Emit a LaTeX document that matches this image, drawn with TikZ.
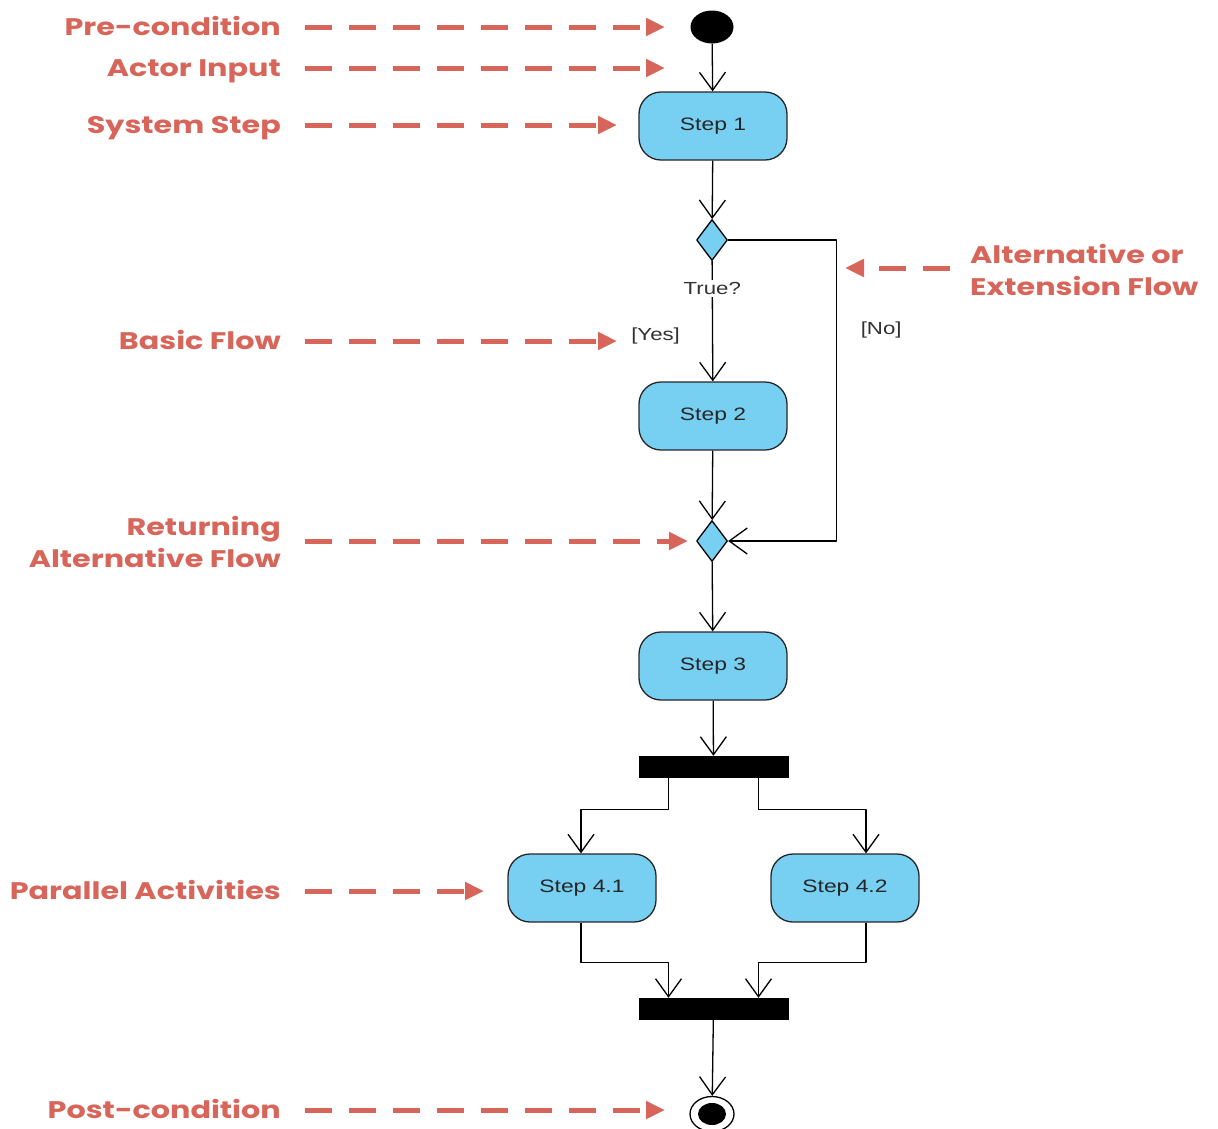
\documentclass[tikz,border=0pt]{standalone}
\usepackage{fontspec}
\setmainfont{Liberation Sans}[FakeStretch=1.27]
\newfontfamily\notefont{Poppins}[FakeStretch=1.26]
\usetikzlibrary{arrows.meta,shapes.geometric}
\definecolor{notered}{RGB}{216,101,90}
\definecolor{stepblue}{RGB}{119,207,242}
\definecolor{labelgray}{RGB}{50,50,50}
\begin{document}
\begin{tikzpicture}[x=1pt,y=-1pt,line join=round,
  actionbox/.style={draw=black!85,line width=1.3pt,fill=stepblue,rounded corners=22pt,
    minimum width=148pt,minimum height=68pt,font=\fontsize{18}{20}\selectfont,text=black!85},
  choice/.style={diamond,draw,line width=1.3pt,fill=stepblue,minimum width=31pt,minimum height=41pt,inner sep=0pt},
  bar/.style={fill=black,minimum width=150pt,minimum height=22pt,inner sep=0pt},
  startdot/.style={ellipse,fill=black,minimum width=43pt,minimum height=33pt,inner sep=0pt},
  enddot/.style={ellipse,draw,line width=1.3pt,minimum width=44pt,minimum height=35pt,inner sep=0pt},
  flow/.style={line width=1.3pt,-{Straight Barb[length=18pt,width=26pt,line width=1.3pt]}},
  guard/.style={font=\fontsize{17.5}{19}\selectfont,text=labelgray,inner sep=2pt},
  note/.style={font=\notefont\bfseries\fontsize{24}{32}\selectfont,text=notered,inner sep=0pt},
  noteline/.style={draw=notered,line width=5pt,dash pattern=on 27pt off 17pt,shorten <=24pt,
    -{Triangle[length=19pt,width=17pt]}}]
\useasboundingbox (0,0) rectangle (1218,1128);

\node[startdot] (start) at (712,27) {};
\node[actionbox] (s1) at (713,126) {Step 1};
\node[choice] (d1) at (712,240) {};
\node[actionbox] (s2) at (713,416) {Step 2};
\node[choice] (d2) at (712,541) {};
\node[actionbox] (s3) at (713,666) {Step 3};
\node[bar] (fork) at (713.5,767) {};
\node[actionbox] (s41) at (582,888) {Step 4.1};
\node[actionbox] (s42) at (845,888) {Step 4.2};
\node[bar] (join) at (713.5,1009) {};
\node[enddot] (end) at (712,1114) {};
\node[startdot,minimum width=28pt,minimum height=22pt] (endcore) at (end) {};

\draw[flow] (start) -- (s1);
\draw[flow] (s1) -- (d1);
\draw[flow] (d1) -- node[guard,fill=white,pos=.23] {True?}
  node[guard,pos=.62,anchor=east,xshift=-30pt] {[Yes]} (s2);
\draw[flow] (d1.east) -- ++(108,0) |- node[guard,pos=.15,anchor=west,xshift=22pt] {[No]} (d2.east);
\draw[flow] (s2) -- (d2);
\draw[flow] (d2) -- (s3);
\draw[flow] (s3) -- (fork);
\draw[flow] ([xshift=-45pt]fork.south) -- ++(0,31) -| ([xshift=-1pt]s41.north);
\draw[flow] ([xshift=45pt]fork.south) -- ++(0,31) -| ([xshift=21pt]s42.north);
\draw[flow] ([xshift=-1pt]s41.south) -- ++(0,40) -| ([xshift=-45pt]join.north);
\draw[flow] ([xshift=21pt]s42.south) -- ++(0,40) -| ([xshift=45pt]join.north);
\draw[flow] (join) -- (end);

\node[note,anchor=mid east] (pre) at (281,33) {Pre-condition};
\node[note,anchor=mid east] (actor) at (281,74) {Actor Input};
\node[note,anchor=mid east] (system) at (281,131) {System Step};
\node[note,anchor=mid east] (basic) at (281,347) {Basic Flow};
\node[note,anchor=east,align=right] (returning) at (281,542) {Returning\\Alternative Flow};
\node[note,anchor=mid east] (parallel) at (281,897) {Parallel Activities};
\node[note,anchor=mid east] (post) at (281,1116) {Post-condition};
\node[note,anchor=west,align=left] (alt) at (970,270) {Alternative or\\Extension Flow};

\coordinate (pre tip) at (665,27);
\coordinate (actor tip) at (665,68);
\coordinate (system tip) at (617,125);
\coordinate (basic tip) at (617,341);
\coordinate (returning tip) at (688,541);
\coordinate (parallel tip) at (484,891);
\coordinate (post tip) at (665,1110);
\coordinate (alt tip) at (845,268);

\foreach \n in {pre,actor,system,basic,returning,parallel,post}
  \draw[noteline] (\n.east |- \n\space tip) -- (\n\space tip);
\draw[noteline,shorten <=20pt] (alt.west |- alt tip) -- (alt tip);
\end{tikzpicture}
\end{document}
